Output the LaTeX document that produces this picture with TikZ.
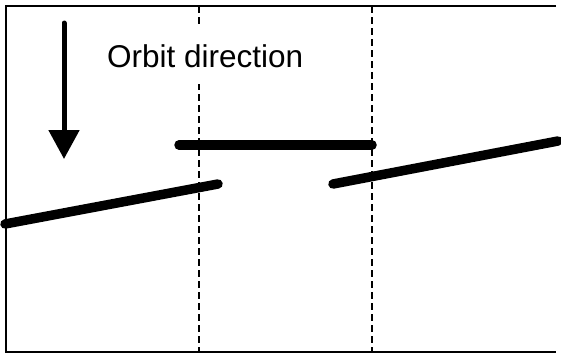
\documentclass[tikz,border=0pt]{standalone}
\usepackage{fontspec}
\setmainfont{Liberation Sans}
\usetikzlibrary{arrows.meta}
\tikzset{
  frame/.style={line width=2.7pt,line join=miter},
  gridline/.style={line width=1.2pt,dash pattern=on 7pt off 4pt},
  track/.style={line width=9.5pt,line cap=round},
  orbit arrow/.style={line width=5pt,line cap=round,-{Triangle[length=29pt,width=30pt]}},
  label/.style={fill=white,inner xsep=6pt,inner ysep=17pt,font=\fontsize{31.5}{36}\selectfont},
}

\begin{document}
\begin{tikzpicture}[x=1pt,y=-1pt]
  \useasboundingbox (0,0) rectangle (561,354);
  % dashed boundaries
  \coordinate (ga) at (199,6);   \coordinate (gb) at (199,352);
  \coordinate (gc) at (372,6);   \coordinate (gd) at (372,352);
  \draw[gridline] (ga) -- (gb);
  \draw[gridline] (gc) -- (gd);
  % open frame
  \coordinate (ftr) at (556,6); \coordinate (fbr) at (556,352);
  \draw[frame] (ftr) -- (6,6) -- (6,352) -- (fbr);
  % orbit direction
  \node[label,anchor=base west] (lbl) at (101,67) {Orbit direction};
  \coordinate (atop) at (64,23); \coordinate (atip) at (64,159);
  \draw[orbit arrow] (atop) -- (atip);
  % tracks
  \coordinate (ma) at (179,145); \coordinate (mb) at (372,145);
  \coordinate (la) at (5,224);   \coordinate (lb) at (218,184);
  \coordinate (ra) at (333,184); \coordinate (rb) at (558,141);
  \draw[track] (ma) -- (mb);
  \draw[track] (la) -- (lb);
  \draw[track] (ra) -- (rb);
\end{tikzpicture}
\end{document}
